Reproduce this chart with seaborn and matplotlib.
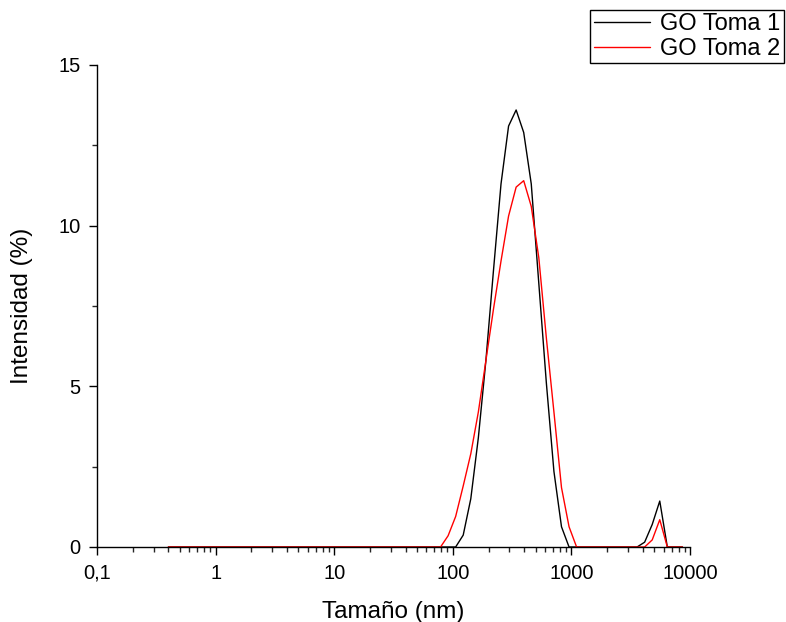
import matplotlib
matplotlib.use("Agg")
import matplotlib.pyplot as plt
import seaborn as sns
import pandas as pd
from matplotlib.ticker import FixedLocator, FixedFormatter, LogLocator, NullFormatter, MultipleLocator

# ---- data ----
sizes_nm = [0.4, 0.4632, 0.5365, 0.6213, 0.7195, 0.8332, 0.9649, 1.117, 1.294, 1.499,
            1.736, 2.010, 2.328, 2.696, 3.122, 3.615, 4.187, 4.849, 5.615, 6.503,
            7.531, 8.721, 10.10, 11.70, 13.54, 15.69, 18.17, 21.04, 24.36, 28.21,
            32.67, 37.84, 43.82, 50.75, 58.77, 68.06, 78.82, 91.28, 105.7, 122.4,
            141.8, 164.2, 190.1, 220.2, 255.0, 295.3, 342.0, 396.1, 458.7, 531.2,
            615.1, 712.4, 825.0, 955.4, 1106, 1281, 1484, 1718, 1990, 2305,
            2669, 3091, 3580, 4145, 4801, 5560, 6439, 7456, 8635]

toma1 = [0, 0, 0, 0, 0, 0, 0, 0, 0, 0,
         0, 0, 0, 0, 0, 0, 0, 0, 0, 0,
         0, 0, 0, 0, 0, 0, 0, 0, 0, 0,
         0, 0, 0, 0, 0, 0, 0, 0, 0, 0.37,
         1.5, 3.4, 5.8, 8.6, 11.3, 13.1, 13.6, 12.9, 11.3, 8.2,
         5.1, 2.35, 0.63, 0, 0, 0, 0, 0, 0, 0,
         0, 0, 0, 0.15, 0.7, 1.43, 0, 0, 0]

toma2 = [0, 0, 0, 0, 0, 0, 0, 0, 0, 0,
         0, 0, 0, 0, 0, 0, 0, 0, 0, 0,
         0, 0, 0, 0, 0, 0, 0, 0, 0, 0,
         0, 0, 0, 0, 0, 0, 0, 0.35, 0.95, 1.9,
         2.9, 4.2, 5.8, 7.4, 8.9, 10.3, 11.2, 11.4, 10.6, 9.0,
         6.5, 4.2, 1.85, 0.63, 0, 0, 0, 0, 0, 0,
         0, 0, 0, 0, 0.22, 0.85, 0, 0, 0]

series_names = ["GO Toma 1", "GO Toma 2"]
series_colors = ["#000000", "#ff0000"]

x_ticks = [0.1, 1, 10, 100, 1000, 10000]
x_ticklabels = ["0,1", "1", "10", "100", "1000", "10000"]
y_ticks = [0, 5, 10, 15]

df = pd.concat([
    pd.DataFrame({"Tamaño": sizes_nm, "Intensidad": toma1, "Serie": series_names[0]}),
    pd.DataFrame({"Tamaño": sizes_nm, "Intensidad": toma2, "Serie": series_names[1]}),
], ignore_index=True)

# ---- style ----
sns.set_style("ticks")
plt.rcParams["font.family"] = ["Liberation Sans", "DejaVu Sans"]
plt.rcParams["text.color"] = "black"
plt.rcParams["axes.labelcolor"] = "black"

fig = plt.figure(figsize=(7.86, 6.22), dpi=100)
ax = fig.add_axes([97/786, 1 - 547/622, (690 - 97)/786, (547 - 65)/622])

sns.lineplot(data=df, x="Tamaño", y="Intensidad", hue="Serie",
             hue_order=series_names, palette=series_colors,
             linewidth=1.0, errorbar=None, ax=ax)

ax.set_xscale("log")
ax.set_xlim(0.1, 10000)
ax.set_ylim(0, 15)

ax.xaxis.set_major_locator(FixedLocator(x_ticks))
ax.xaxis.set_major_formatter(FixedFormatter(x_ticklabels))
ax.xaxis.set_minor_locator(LogLocator(base=10, subs=[2, 3, 4, 5, 6, 7, 8, 9], numticks=20))
ax.xaxis.set_minor_formatter(NullFormatter())
ax.yaxis.set_major_locator(FixedLocator(y_ticks))
ax.yaxis.set_minor_locator(MultipleLocator(2.5))

ax.tick_params(axis="both", which="major", direction="out", length=6, width=1,
               labelsize=14.5, colors="black", labelcolor="black", pad=6)
ax.tick_params(axis="both", which="minor", direction="out", length=3.5, width=1)

for s in ["top", "right"]:
    ax.spines[s].set_visible(False)
for s in ["left", "bottom"]:
    ax.spines[s].set_color("black")
    ax.spines[s].set_linewidth(1)

ax.set_xlabel("Tamaño (nm)", fontsize=17.5, labelpad=13)
ax.set_ylabel("Intensidad (%)", fontsize=17.5, labelpad=18)

handles, labels = ax.get_legend_handles_labels()
leg = ax.legend(handles, labels, loc="upper right", bbox_to_anchor=(0.997, 0.984),
                bbox_transform=fig.transFigure, frameon=True, fancybox=False,
                edgecolor="black", framealpha=1, handlelength=2.4, fontsize=17,
                borderpad=0.15, labelspacing=0.1, borderaxespad=0, handletextpad=0.4)
leg.get_frame().set_linewidth(1)
for t in leg.get_texts():
    t.set_color("black")

fig.savefig("out.png", dpi=100)
